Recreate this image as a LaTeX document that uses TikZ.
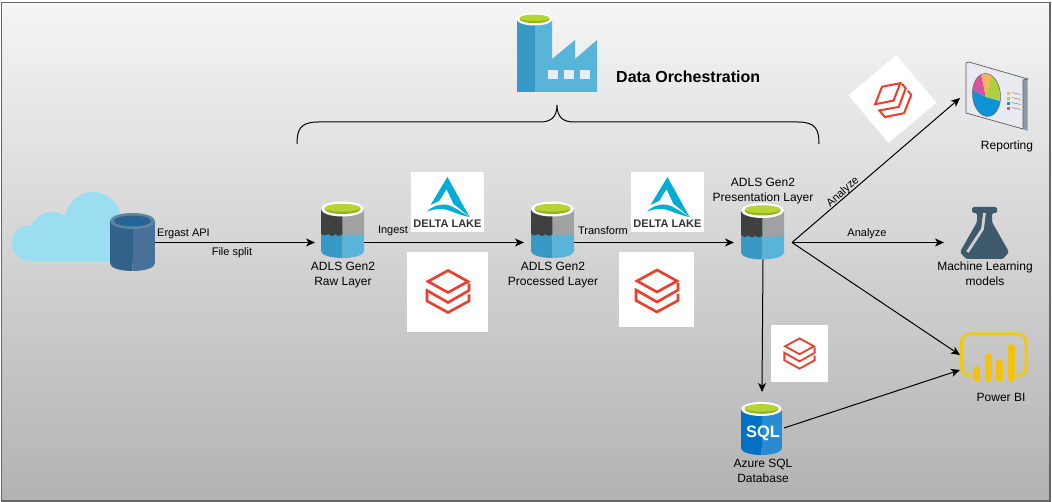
\documentclass[tikz,border=0pt]{standalone}
\usepackage{fontspec}
\setmainfont{Liberation Sans}
\usepackage{tikz}
\usetikzlibrary{arrows.meta, positioning}

\definecolor{lakeblue}{HTML}{3999C6}
\definecolor{lakesky}{HTML}{59B4D9}
\definecolor{lakedark}{HTML}{404040}
\definecolor{lakegrey}{HTML}{A0A1A2}
\definecolor{limetop}{HTML}{B8D432}
\definecolor{limelow}{HTML}{8FB51E}
\definecolor{apileft}{HTML}{32628A}
\definecolor{apiright}{HTML}{487199}
\definecolor{apirim}{HTML}{5E84A4}
\definecolor{apiwater}{HTML}{1F6796}
\definecolor{cloudblue}{HTML}{9BDDF1}
\definecolor{sqlleft}{HTML}{0072C6}
\definecolor{sqlright}{HTML}{2A8BD5}
\definecolor{deltateal}{HTML}{00ADD4}
\definecolor{brickred}{HTML}{EE3D2C}
\definecolor{flaskslate}{HTML}{3E5A6B}
\definecolor{biyellow}{HTML}{F2C811}
\definecolor{pieorange}{HTML}{F9B35E}
\definecolor{piegreen}{HTML}{AFCF3F}
\definecolor{pieblue}{HTML}{0D94D6}
\definecolor{piepink}{HTML}{D9529B}
\definecolor{panelside}{HTML}{8D97A8}
\definecolor{panelfront}{HTML}{E9E9F0}

\tikzset{
    lake/.pic={
        \fill[lakeblue] (-21.5,0) -- (0,0) -- (0,28) .. controls (-12,28) and (-21.5,25) .. (-21.5,21) -- cycle;
        \fill[lakesky] (21.5,0) -- (0,0) -- (0,28) .. controls (12,28) and (21.5,25) .. (21.5,21) -- cycle;
        \fill[lakedark] (-21.5,-21) -- (0,-21) -- (0,4) .. controls (-3,6.5) and (-5,6.5) .. (-7,4)
            .. controls (-9,6.5) and (-12,6.5) .. (-14,4) .. controls (-16,6) and (-19,6) .. (-21.5,3.5) -- cycle;
        \fill[lakegrey] (21.5,-21) -- (0,-21) -- (0,4) .. controls (3,6.5) and (5,6.5) .. (7,4)
            .. controls (9,6.5) and (12,6.5) .. (14,4) .. controls (16,6) and (19,6) .. (21.5,3.5) -- cycle;
        \fill[white] (0,-21) ellipse [x radius=21.5, y radius=7.5];
        \fill[limelow] (0,-21) ellipse [x radius=18, y radius=5];
        \fill[limetop] (0,-22.2) ellipse [x radius=18, y radius=3.8];
    },
    brick/.pic={
        \draw[brickred, line width=\pgfkeysvalueof{/tikz/brickline}, line join=miter]
            (0,-21) -- (20,-10) -- (0,1) -- (-20,-10) -- cycle
            (21,-8) -- (21,-1) -- (0,11) -- (-21,-1) -- (-21,9.5) -- (0,21) -- (21,9.5) -- (21,3);
    },
    brickline/.initial=2.6pt,
    delta/.pic={
        \fill[deltateal] (0,-25) -- (-17,3) .. controls (-12,0.5) and (-9,-0.5) .. (-8,-1.5)
            -- (-1,-13) -- (6,2) -- (10,5) -- (22,15) -- cycle;
        \fill[deltateal] (-20.5,9.5) .. controls (-16,5) and (-10,2.5) .. (-4,2.5)
            .. controls (4,2.5) and (10,8) .. (22,15) .. controls (14,13.5) and (8,11) .. (3,9)
            .. controls (-3,6.5) and (-11,6) .. (-20.5,9.5) -- cycle;
        \node[font=\fontsize{11}{12}\selectfont\bfseries, text=black!80, inner sep=0pt] (wordmark) at (0,22) {DELTA LAKE};
    },
}

\begin{document}
\begin{tikzpicture}[x=1pt, y=-1pt, >={Stealth[length=9pt, width=8pt, inset=2.5pt]}]
    \tikzstyle{format} = [inner sep=0pt, outer sep=0pt]
    \tikzstyle{caption} = [inner sep=0pt, align=center, font=\fontsize{12}{15}\selectfont]
    \tikzstyle{tag} = [inner sep=0pt, font=\fontsize{11}{13}\selectfont]
    \tikzstyle{logobox} = [fill=white, inner sep=0pt]

    \useasboundingbox (0,0) rectangle (1052,502);
    \shade[top color=black!4, bottom color=black!30, draw=black!60, line width=1.5pt] (1.5,2.5) rectangle (1050,501);

    % data orchestration
    \fill[lakesky] (535,19) -- (552,19) -- (552,59) -- (575,40) -- (575,59) -- (597,40) -- (597,92) -- (535,92) -- cycle;
    \fill[lakeblue] (517,19) rectangle (535,92);
    \fill[white] (534.5,19) ellipse [x radius=18, y radius=6.5];
    \fill[limelow] (534.5,19) ellipse [x radius=15, y radius=4.2];
    \fill[limetop] (534.5,18) ellipse [x radius=15, y radius=3.2];
    \foreach \winx in {548, 564, 580}
        \fill[black!8] (\winx,70) rectangle ++(9.5,9);
    \node[inner sep=0pt, anchor=west, font=\fontsize{16}{18}\selectfont\bfseries] (orchestration) at (616,77) {Data Orchestration};
    \draw[line width=1pt] (297,144) .. controls (297,130) and (300,122) .. (318,122)
        -- (540,122) .. controls (550,122) and (557,118) .. (557,105)
        .. controls (557,118) and (564,122) .. (574,122)
        -- (798,122) .. controls (816,122) and (819,130) .. (819,144);

    % source
    \fill[cloudblue] (29,243) circle (17.5);
    \fill[cloudblue] (52,234) circle (22);
    \fill[cloudblue] (93,220) circle (28);
    \fill[cloudblue] (29,238) rectangle (125,261);
    \fill[apileft] (110,221) rectangle (132.5,263);
    \fill[apileft] (110,263) .. controls (110,268) and (120,271) .. (132.5,271) -- (132.5,263) -- cycle;
    \fill[apiright] (155,221) rectangle (132.5,263);
    \fill[apiright] (155,263) .. controls (155,268) and (145,271) .. (132.5,271) -- (132.5,263) -- cycle;
    \fill[apirim] (132.5,221) ellipse [x radius=22.5, y radius=8];
    \fill[apileft] (132.5,221) ellipse [x radius=18.5, y radius=5.5];
    \fill[apiwater] (132.5,222.5) ellipse [x radius=14, y radius=3.5];

    % storage and logos
    \pic at (342.5,230) {lake};
    \pic at (552.5,230) {lake};
    \pic at (762.5,231.5) {lake};

    \node[logobox, minimum width=73pt, minimum height=60pt] (deltaraw) at (447.5,202) {};
    \node[logobox, minimum width=73pt, minimum height=60pt] (deltaproc) at (667.5,202) {};
    \pic at (deltaraw) {delta};
    \pic at (deltaproc) {delta};

    \node[logobox, minimum width=81pt, minimum height=80pt] (brickraw) at (447.5,292) {};
    \node[logobox, minimum width=75pt, minimum height=75pt] (brickproc) at (656.5,289.5) {};
    \node[logobox, minimum width=57pt, minimum height=57pt] (bricksql) at (799.5,353.5) {};
    \node[logobox, minimum size=62.5pt, rotate=40] (brickreport) at (892.5,99) {};
    \pic at (448,291.5) {brick};
    \pic at (657,291) {brick};
    \pic[scale=.72, brickline=1.8pt] at (bricksql) {brick};
    \pic[scale=.82, rotate=40, brickline=2pt] at (893,100) {brick};

    % azure sql
    \fill[sqlleft] (741,409) rectangle (761.5,448);
    \fill[sqlleft] (741,448) .. controls (741,452) and (750,455) .. (761.5,455) -- (761.5,448) -- cycle;
    \fill[sqlright] (782,409) rectangle (761.5,448);
    \fill[sqlright] (782,448) .. controls (782,452) and (773,455) .. (761.5,455) -- (761.5,448) -- cycle;
    \fill[white] (761.5,409) ellipse [x radius=20.5, y radius=7];
    \fill[limelow] (761.5,409) ellipse [x radius=17, y radius=4.8];
    \fill[limetop] (761.5,408) ellipse [x radius=17, y radius=3.6];
    \node[inner sep=0pt, text=white, font=\fontsize{16.5}{18}\selectfont\bfseries] (sqlword) at (763,433) {SQL};

    % reporting
    \fill[panelside] (1023,80) -- (1027.7,79) -- (1027.7,131) -- (1023,129) -- cycle;
    \draw[black!65, fill=panelfront, line width=.7pt] (966,63) -- (969,62) -- (1027.7,79) -- (1023,80) -- (1023,129) -- (966,113) -- cycle;
    \begin{scope}[rotate around={5:(986.5,95)}]
        \begin{scope}
            \clip (986.5,95) ellipse [x radius=14, y radius=21.5];
            \fill[pieblue] (985.7,97) -- (1005,104) -- (1005,125) -- (965,125) -- (965,83) -- cycle;
            \fill[piepink] (985.7,97) -- (965,83) -- (965,65) -- (982,65) -- cycle;
            \fill[pieorange] (985.7,97) -- (982,65) -- (997,65) -- cycle;
            \fill[piegreen] (985.7,97) -- (997,65) -- (1008,65) -- (1008,104) -- cycle;
        \end{scope}
        \draw[black!60, line width=.5pt] (986.5,95) ellipse [x radius=14, y radius=21.5];
    \end{scope}
    \foreach \legy/\legc in {91.7/pieorange, 96.7/piegreen, 101.7/pieblue, 106.7/piepink} {
        \fill[\legc] (1007,\legy) rectangle ++(3,3);
        \draw[black!50, line width=.5pt] (1011.5,\legy+.8) -- ++(9,2);
    }

    % flask
    \fill[flaskslate, rounded corners=1.5pt] (972,207) -- (997,207) -- (997,213) -- (992,213) -- (992,222) -- (1009,252) -- (1003,259) -- (966,259) -- (960,252) -- (977,222) -- (977,213) -- (972,213) -- cycle;
    \draw[black!18, line width=2.8pt] (967.5,252) -- (982.5,229) -- (984.5,213);

    % power bi
    \draw[biyellow, line width=3pt, rounded corners=8pt] (971,375.5) -- (961.5,375.5) -- (961.5,334) -- (1026,334) -- (1026,375.5) -- (1017,375.5);
    \foreach \barx/\bartop in {976/366, 988/353, 999/359, 1011/344}
        \draw[biyellow!92!orange, line width=7pt, line cap=round] (\barx,\bartop+3.5) -- (\barx,378.5);

    % captions
    \node[tag, anchor=west] (ergast) at (157,234) {Ergast API};
    \node[tag] (filesplit) at (232,253) {File split};
    \node[caption] (rawname) at (343,275) {ADLS Gen2\\Raw Layer};
    \node[tag] (ingest) at (393,231) {Ingest};
    \node[caption] (procname) at (553,275) {ADLS Gen2\\Processed Layer};
    \node[tag] (transform) at (603,231) {Transform};
    \node[caption] (presname) at (763,191) {ADLS Gen2\\Presentation Layer};
    \node[tag, rotate=42] (analyzeup) at (843,192) {Analyze};
    \node[tag] (analyzeml) at (867,234) {Analyze};
    \node[caption] (sqlname) at (763,470.5) {Azure SQL\\Database};
    \node[caption] (reportname) at (1007,146) {Reporting};
    \node[caption] (mlname) at (985,273.5) {Machine Learning\\models};
    \node[caption] (biname) at (1001,397) {Power BI};

    \path[->, line width=1pt]
        node[format, minimum width=45pt] (api) at (132.5,242.5) {}
        node[format, minimum width=49pt] (raw) at (339.5,242.5) {}
        node[format, minimum width=50pt] (processed) at (549,242.5) {}
        node[format, minimum width=58pt, minimum height=34pt] (presentation) at (763,242.5) {}
        node[format, minimum width=44pt, minimum height=72pt] (sqldb) at (762,428) {}
        node[format, minimum width=68pt] (reporting) at (994,98) {}
        node[format, minimum width=64pt] (mlmodels) at (976,242.5) {}
        node[format, minimum width=66pt, minimum height=15pt] (powerbi) at (993,362.5) {}

        (api.east) edge (raw.west)
        (raw.east) edge (processed.west)
        (processed.east) edge (presentation.west)
        (presentation.east) edge (reporting.west)
        (presentation.east) edge (mlmodels.west)
        (presentation.east) edge (powerbi.north west)
        (presentation.south) edge (sqldb.north)
        (sqldb.east) edge (powerbi.south west)
    ;
\end{tikzpicture}
\end{document}
